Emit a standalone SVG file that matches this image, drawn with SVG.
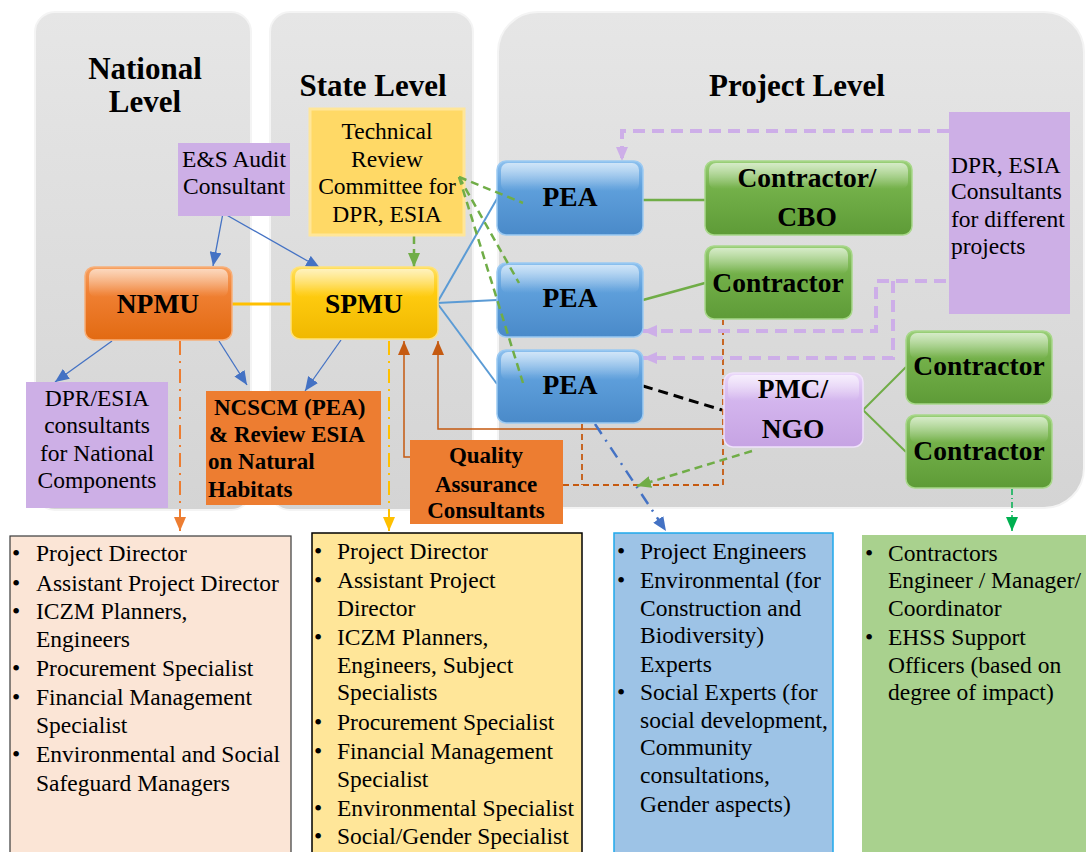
<svg xmlns="http://www.w3.org/2000/svg" width="1086" height="852" viewBox="0 0 1086 852">
<defs>
<style>
.serif{font-family:"Liberation Serif","Times New Roman",serif;fill:#000}
.title{font-size:31px;font-weight:bold;text-anchor:middle}
.nt{font-size:27.5px;font-weight:bold;text-anchor:middle}
.bt{font-size:23px;font-weight:bold}
.rt{font-size:23.5px}
.mid{text-anchor:middle}
.panel{fill:url(#gPanel);stroke:#F4F4F4;stroke-width:2}
.node{stroke-width:1.5}
.gloss{fill:url(#gGloss)}
.ln{fill:none}
</style>
<linearGradient id="gPanel" x1="0" y1="0" x2="0" y2="1">
<stop offset="0" stop-color="#E6E6E6"/><stop offset="1" stop-color="#D4D4D4"/>
</linearGradient>
<linearGradient id="gGloss" x1="0" y1="0" x2="0" y2="1">
<stop offset="0" stop-color="#FFFFFF" stop-opacity="0.6"/><stop offset="1" stop-color="#FFFFFF" stop-opacity="0"/>
</linearGradient>
<linearGradient id="gOrange" x1="0" y1="0" x2="0" y2="1">
<stop offset="0" stop-color="#F7A060"/><stop offset="0.35" stop-color="#F08033"/><stop offset="1" stop-color="#E26A12"/>
</linearGradient>
<linearGradient id="gYellow" x1="0" y1="0" x2="0" y2="1">
<stop offset="0" stop-color="#FFE060"/><stop offset="0.35" stop-color="#FFCC10"/><stop offset="1" stop-color="#F0B800"/>
</linearGradient>
<linearGradient id="gBlue" x1="0" y1="0" x2="0" y2="1">
<stop offset="0" stop-color="#8CC0EE"/><stop offset="0.35" stop-color="#5FA0DC"/><stop offset="1" stop-color="#4A8AC9"/>
</linearGradient>
<linearGradient id="gGreen" x1="0" y1="0" x2="0" y2="1">
<stop offset="0" stop-color="#9ACF78"/><stop offset="0.35" stop-color="#74B14A"/><stop offset="1" stop-color="#5E9B37"/>
</linearGradient>
<linearGradient id="gPurple" x1="0" y1="0" x2="0" y2="1">
<stop offset="0" stop-color="#EBD8FA"/><stop offset="0.35" stop-color="#D4B6EE"/><stop offset="1" stop-color="#C6A3E3"/>
</linearGradient>
<marker id="mBlue" viewBox="0 0 14 12" refX="14" refY="6" markerWidth="14" markerHeight="12" markerUnits="userSpaceOnUse" orient="auto"><path d="M0,0 L14,6 L0,12 z" fill="#4472C4"/></marker>
<marker id="mGreen" viewBox="0 0 14 12" refX="14" refY="6" markerWidth="14" markerHeight="12" markerUnits="userSpaceOnUse" orient="auto"><path d="M0,0 L14,6 L0,12 z" fill="#70AD47"/></marker>
<marker id="mOrange" viewBox="0 0 14 12" refX="14" refY="6" markerWidth="14" markerHeight="12" markerUnits="userSpaceOnUse" orient="auto"><path d="M0,0 L14,6 L0,12 z" fill="#ED7D31"/></marker>
<marker id="mYellow" viewBox="0 0 14 12" refX="14" refY="6" markerWidth="14" markerHeight="12" markerUnits="userSpaceOnUse" orient="auto"><path d="M0,0 L14,6 L0,12 z" fill="#FFC000"/></marker>
<marker id="mBrown" viewBox="0 0 14 12" refX="14" refY="6" markerWidth="14" markerHeight="12" markerUnits="userSpaceOnUse" orient="auto"><path d="M0,0 L14,6 L0,12 z" fill="#C55A11"/></marker>
<marker id="mPurple" viewBox="0 0 14 12" refX="14" refY="6" markerWidth="14" markerHeight="14" markerUnits="userSpaceOnUse" orient="auto"><path d="M0,0 L14,6 L0,12 z" fill="#CDAEE8"/></marker>
<marker id="mGreen2" viewBox="0 0 14 12" refX="14" refY="6" markerWidth="14" markerHeight="12" markerUnits="userSpaceOnUse" orient="auto"><path d="M0,0 L14,6 L0,12 z" fill="#00B050"/></marker>
</defs>

<rect width="1086" height="852" fill="#FFFFFF"/>

<g id="panels">
<rect class="panel" x="35" y="12" width="216" height="498" rx="20"/>
<rect class="panel" x="270" y="12" width="203" height="498" rx="20"/>
<rect class="panel" x="498" y="12" width="586" height="496" rx="40"/>
<text class="serif title" x="145" y="79">National</text>
<text class="serif title" x="145" y="112">Level</text>
<text class="serif title" x="373" y="96">State Level</text>
<text class="serif title" x="797" y="96">Project Level</text>
</g>

<g id="list-national">
<rect x="10" y="536" width="281" height="330" fill="#FBE5D6" stroke="#3A3A3A" stroke-width="1.2"/>
<text class="serif rt">
<tspan x="12" y="561">•</tspan><tspan x="36" y="561">Project Director</tspan>
<tspan x="12" y="591">•</tspan><tspan x="36" y="591">Assistant Project Director</tspan>
<tspan x="12" y="619">•</tspan><tspan x="36" y="619">ICZM Planners,</tspan>
<tspan x="36" y="647">Engineers</tspan>
<tspan x="12" y="676">•</tspan><tspan x="36" y="676">Procurement Specialist</tspan>
<tspan x="12" y="705">•</tspan><tspan x="36" y="705">Financial Management</tspan>
<tspan x="36" y="733">Specialist</tspan>
<tspan x="12" y="762">•</tspan><tspan x="36" y="762">Environmental and Social</tspan>
<tspan x="36" y="791">Safeguard Managers</tspan>
</text>
</g>

<g id="list-state">
<rect x="312" y="533" width="270" height="333" fill="#FFE699" stroke="#000000" stroke-width="1.5"/>
<text class="serif rt">
<tspan x="314" y="559">•</tspan><tspan x="337" y="559">Project Director</tspan>
<tspan x="314" y="588">•</tspan><tspan x="337" y="588">Assistant Project</tspan>
<tspan x="337" y="616">Director</tspan>
<tspan x="314" y="645">•</tspan><tspan x="337" y="645">ICZM Planners,</tspan>
<tspan x="337" y="673">Engineers, Subject</tspan>
<tspan x="337" y="700">Specialists</tspan>
<tspan x="314" y="730">•</tspan><tspan x="337" y="730">Procurement Specialist</tspan>
<tspan x="314" y="759">•</tspan><tspan x="337" y="759">Financial Management</tspan>
<tspan x="337" y="787">Specialist</tspan>
<tspan x="314" y="816">•</tspan><tspan x="337" y="816">Environmental Specialist</tspan>
<tspan x="314" y="844">•</tspan><tspan x="337" y="844">Social/Gender Specialist</tspan>
</text>
</g>

<g id="list-pea">
<rect x="614" y="533" width="219" height="333" fill="#9DC3E6" stroke="#1FA9EC" stroke-width="1.5"/>
<text class="serif rt">
<tspan x="617" y="559">•</tspan><tspan x="640" y="559">Project Engineers</tspan>
<tspan x="617" y="588">•</tspan><tspan x="640" y="588">Environmental (for</tspan>
<tspan x="640" y="616">Construction and</tspan>
<tspan x="640" y="643">Biodiversity)</tspan>
<tspan x="640" y="672">Experts</tspan>
<tspan x="617" y="700">•</tspan><tspan x="640" y="700">Social Experts (for</tspan>
<tspan x="640" y="728">social development,</tspan>
<tspan x="640" y="755">Community</tspan>
<tspan x="640" y="783">consultations,</tspan>
<tspan x="640" y="812">Gender aspects)</tspan>
</text>
</g>

<g id="list-contractor">
<rect x="862" y="535" width="230" height="330" fill="#A9D18E"/>
<text class="serif rt">
<tspan x="865" y="561">•</tspan><tspan x="888" y="561">Contractors</tspan>
<tspan x="888" y="588">Engineer / Manager/</tspan>
<tspan x="888" y="616">Coordinator</tspan>
<tspan x="865" y="645">•</tspan><tspan x="888" y="645">EHSS Support</tspan>
<tspan x="888" y="673">Officers (based on</tspan>
<tspan x="888" y="700">degree of impact)</tspan>
</text>
</g>

<g id="connectors">
<line class="ln" x1="223" y1="213" x2="213" y2="266" stroke="#4472C4" stroke-width="1.3" marker-end="url(#mBlue)"/>
<line class="ln" x1="223" y1="213" x2="320" y2="268" stroke="#4472C4" stroke-width="1.3" marker-end="url(#mBlue)"/>
<line class="ln" x1="414" y1="236" x2="414" y2="267" stroke="#70AD47" stroke-width="2.5" stroke-dasharray="8,5" marker-end="url(#mGreen)"/>
<line class="ln" x1="232" y1="304" x2="291" y2="304" stroke="#FFC000" stroke-width="3"/>
<line class="ln" x1="437" y1="303" x2="498" y2="197" stroke="#5B9BD5" stroke-width="2"/>
<line class="ln" x1="437" y1="303" x2="497" y2="300" stroke="#5B9BD5" stroke-width="2"/>
<line class="ln" x1="437" y1="303" x2="497" y2="384" stroke="#5B9BD5" stroke-width="2"/>
<line class="ln" x1="112" y1="341" x2="55" y2="382" stroke="#4472C4" stroke-width="1.3" marker-end="url(#mBlue)"/>
<line class="ln" x1="219" y1="341" x2="247" y2="385" stroke="#4472C4" stroke-width="1.3" marker-end="url(#mBlue)"/>
<line class="ln" x1="341" y1="340" x2="305" y2="391" stroke="#4472C4" stroke-width="1.3" marker-end="url(#mBlue)"/>
<line class="ln" x1="180" y1="341" x2="180" y2="531" stroke="#ED7D31" stroke-width="2" stroke-dasharray="14,6,2,6" marker-end="url(#mOrange)"/>
<line class="ln" x1="389" y1="341" x2="389" y2="531" stroke="#FFC000" stroke-width="2" stroke-dasharray="14,6,2,6" marker-end="url(#mYellow)"/>
<polyline class="ln" points="410,457 404,457 404,341" stroke="#C55A11" stroke-width="1.5" marker-end="url(#mBrown)"/>
<polyline class="ln" points="733,429 438,429 438,341" stroke="#C55A11" stroke-width="1.5" marker-end="url(#mBrown)"/>
<polyline class="ln" points="563,485 723,485 723,320" stroke="#C55A11" stroke-width="1.8" stroke-dasharray="6,4"/>
<line class="ln" x1="582" y1="424" x2="582" y2="485" stroke="#C55A11" stroke-width="1.8" stroke-dasharray="6,4"/>
<line class="ln" x1="595" y1="424" x2="666" y2="531" stroke="#4472C4" stroke-width="2.5" stroke-dasharray="12,7,2,7" marker-end="url(#mBlue)"/>
<line class="ln" x1="752" y1="451" x2="637" y2="486" stroke="#70AD47" stroke-width="2.5" stroke-dasharray="8,5" marker-end="url(#mGreen)"/>
<line class="ln" x1="643" y1="386" x2="722" y2="410" stroke="#000000" stroke-width="3" stroke-dasharray="10,6"/>
<line class="ln" x1="643" y1="200" x2="705" y2="200" stroke="#70AD47" stroke-width="2.5"/>
<line class="ln" x1="643" y1="300" x2="705" y2="283" stroke="#70AD47" stroke-width="2.5"/>
<line class="ln" x1="863" y1="410" x2="906" y2="367" stroke="#70AD47" stroke-width="2"/>
<line class="ln" x1="863" y1="410" x2="906" y2="452" stroke="#70AD47" stroke-width="2"/>
<line class="ln" x1="1012" y1="489" x2="1012" y2="531" stroke="#00B050" stroke-width="1.5" stroke-dasharray="6,3,1,3" marker-end="url(#mGreen2)"/>
<polyline class="ln" points="949,131 622,131 622,161" stroke="#CDAEE8" stroke-width="4" stroke-dasharray="12,7" marker-end="url(#mPurple)"/>
<polyline class="ln" points="946,281 876,281 876,331 643,331" stroke="#CDAEE8" stroke-width="4" stroke-dasharray="12,7" marker-end="url(#mPurple)"/>
<polyline class="ln" points="893,281 893,358 643,358" stroke="#CDAEE8" stroke-width="4" stroke-dasharray="12,7" marker-end="url(#mPurple)"/>
</g>

<g id="es-audit">
<rect x="178" y="143" width="112" height="73" fill="#CDAFE6"/>
<text class="serif rt mid" x="234" y="167">E&amp;S Audit</text>
<text class="serif rt mid" x="234" y="194">Consultant</text>
</g>

<g id="trc">
<rect x="310" y="109" width="154" height="126" fill="#FFD966" stroke="#FFE699" stroke-width="3"/>
<text class="serif rt mid" x="387" y="139">Technical</text>
<text class="serif rt mid" x="387" y="167">Review</text>
<text class="serif rt mid" x="387" y="194">Committee for</text>
<text class="serif rt mid" x="387" y="222">DPR, ESIA</text>
</g>

<g id="npmu">
<rect class="node" x="85" y="267" width="147" height="73" rx="9" fill="url(#gOrange)" stroke="#F8B07A"/>
<rect class="gloss" x="89" y="269" width="139" height="28" rx="7"/>
<text class="serif nt" x="158" y="313">NPMU</text>
</g>

<g id="spmu">
<rect class="node" x="291" y="267" width="147" height="72" rx="9" fill="url(#gYellow)" stroke="#FFE27A"/>
<rect class="gloss" x="295" y="269" width="139" height="28" rx="7"/>
<text class="serif nt" x="364" y="313">SPMU</text>
</g>

<g id="dpr-national">
<rect x="26" y="382" width="142" height="126" fill="#CDAFE6"/>
<text class="serif rt mid" x="97" y="406">DPR/ESIA</text>
<text class="serif rt mid" x="97" y="433">consultants</text>
<text class="serif rt mid" x="97" y="461">for National</text>
<text class="serif rt mid" x="97" y="488">Components</text>
</g>

<g id="ncscm">
<rect x="206" y="391" width="175" height="114" fill="#ED7D31"/>
<text class="serif bt" x="214" y="415">NCSCM (PEA)</text>
<text class="serif bt" x="209" y="442">&amp; Review ESIA</text>
<text class="serif bt" x="208" y="469">on Natural</text>
<text class="serif bt" x="208" y="497">Habitats</text>
</g>

<g id="qa">
<rect x="410" y="440" width="153" height="84" fill="#ED7D31"/>
<text class="serif bt mid" x="486" y="463">Quality</text>
<text class="serif bt mid" x="486" y="492">Assurance</text>
<text class="serif bt mid" x="486" y="518">Consultants</text>
</g>

<g id="pea1">
<rect class="node" x="497" y="161" width="146" height="74" rx="9" fill="url(#gBlue)" stroke="#9CCAF2"/>
<rect class="gloss" x="501" y="163" width="138" height="28" rx="7"/>
<text class="serif nt" x="570" y="206">PEA</text>
</g>

<g id="pea2">
<rect class="node" x="497" y="263" width="146" height="74" rx="9" fill="url(#gBlue)" stroke="#9CCAF2"/>
<rect class="gloss" x="501" y="265" width="138" height="28" rx="7"/>
<text class="serif nt" x="570" y="307">PEA</text>
</g>

<g id="pea3">
<rect class="node" x="497" y="350" width="146" height="73" rx="9" fill="url(#gBlue)" stroke="#9CCAF2"/>
<rect class="gloss" x="501" y="352" width="138" height="28" rx="7"/>
<text class="serif nt" x="570" y="394">PEA</text>
</g>

<g id="contractor-cbo">
<rect class="node" x="705" y="161" width="207" height="74" rx="9" fill="url(#gGreen)" stroke="#A8D88A"/>
<rect class="gloss" x="709" y="163" width="199" height="26" rx="7"/>
<text class="serif nt" x="807" y="187">Contractor/</text>
<text class="serif nt" x="807" y="226">CBO</text>
</g>

<g id="contractor-mid">
<rect class="node" x="705" y="246" width="147" height="73" rx="9" fill="url(#gGreen)" stroke="#A8D88A"/>
<rect class="gloss" x="709" y="248" width="139" height="26" rx="7"/>
<text class="serif nt" x="778" y="292">Contractor</text>
</g>

<g id="dpr-project">
<rect x="949" y="112" width="121" height="202" fill="#CDAFE6"/>
<text class="serif rt" x="951" y="173">DPR, ESIA</text>
<text class="serif rt" x="951" y="199">Consultants</text>
<text class="serif rt" x="951" y="227">for different</text>
<text class="serif rt" x="951" y="254">projects</text>
</g>

<g id="pmc-ngo">
<rect class="node" x="724" y="373" width="139" height="74" rx="9" fill="url(#gPurple)" stroke="#F0E2FB"/>
<rect class="gloss" x="728" y="375" width="131" height="26" rx="7"/>
<text class="serif nt" x="793" y="398">PMC/</text>
<text class="serif nt" x="793" y="438">NGO</text>
</g>

<g id="contractor-r1">
<rect class="node" x="906" y="331" width="146" height="73" rx="9" fill="url(#gGreen)" stroke="#A8D88A"/>
<rect class="gloss" x="910" y="333" width="138" height="26" rx="7"/>
<text class="serif nt" x="979" y="375">Contractor</text>
</g>

<g id="contractor-r2">
<rect class="node" x="906" y="415" width="146" height="73" rx="9" fill="url(#gGreen)" stroke="#A8D88A"/>
<rect class="gloss" x="910" y="417" width="138" height="26" rx="7"/>
<text class="serif nt" x="979" y="460">Contractor</text>
</g>

<g id="connectors-over">
<line class="ln" x1="459" y1="177" x2="523" y2="203" stroke="#70AD47" stroke-width="2.5" stroke-dasharray="8,5"/>
<line class="ln" x1="459" y1="177" x2="519" y2="283" stroke="#70AD47" stroke-width="2.5" stroke-dasharray="8,5"/>
<line class="ln" x1="459" y1="177" x2="523" y2="383" stroke="#70AD47" stroke-width="2.5" stroke-dasharray="8,5"/>
</g>
</svg>
